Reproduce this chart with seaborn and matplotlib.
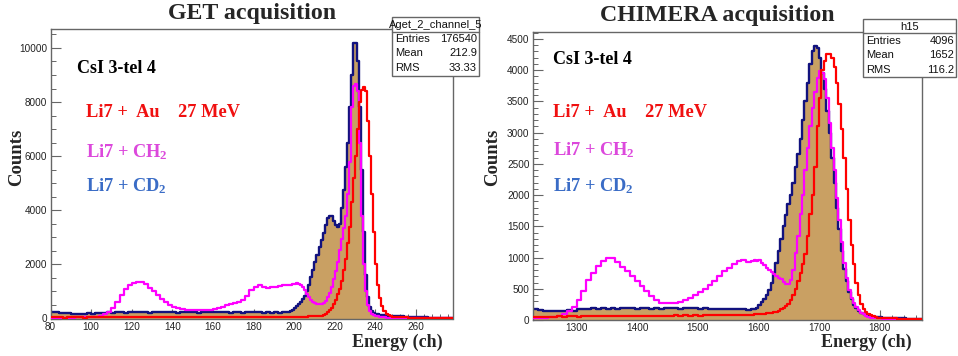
import numpy as np
import pandas as pd
import matplotlib
matplotlib.use("Agg")
import matplotlib.pyplot as plt
from matplotlib.ticker import MultipleLocator
from matplotlib.patches import Rectangle
from matplotlib.lines import Line2D
import seaborn as sns

sns.set_theme(style="white")
plt.rcParams["font.family"] = ["Liberation Sans", "DejaVu Sans"]
plt.rcParams["mathtext.fontset"] = "custom"
plt.rcParams["mathtext.rm"] = "Liberation Serif:bold"
plt.rcParams["mathtext.it"] = "Liberation Serif:bold"
plt.rcParams["mathtext.bf"] = "Liberation Serif:bold"

# ---------------- GET acquisition
# binning: 2 ch on 80-196, 1 ch on 196-248 (peak region), 2 ch on 248-280
get_binning = [(80, 196, 2), (196, 248, 1), (248, 280, 2)]
get_cd2 = [
    # 80 - 194 (2 ch)
    230, 250, 210, 220, 190, 170, 180, 160, 170, 190,
    180, 200, 190, 210, 230, 220, 240, 230, 220, 250,
    240, 230, 250, 240, 220, 240, 230, 250, 240, 230,
    240, 220, 230, 250, 240, 230, 220, 240, 250, 230,
    240, 230, 250, 230, 220, 240, 230, 220, 240, 230,
    230, 240, 220, 230, 210, 230, 220, 240,
    # 196 - 247 (1 ch)
    230, 250, 280, 330, 380, 450, 520, 620, 720, 850,
    1000, 1250, 1550, 1800, 2100, 2350, 2650, 2900, 3150, 3450,
    3700, 3800, 3780, 3620, 3450, 3380, 3500, 4100, 4750, 5600,
    6500, 7800, 9000, 10200, 10200, 9500, 7800, 5500, 3200, 1600,
    800, 420, 260, 200, 170, 150, 130, 120, 120, 110,
    110, 105,
    # 248 - 278 (2 ch)
    100, 90, 80, 70, 60, 60, 50, 40, 40, 30, 30, 30, 20, 20, 20, 20,
]
get_ch2 = [
    30, 30, 30, 30, 35, 35, 40, 40, 40, 45,
    50, 70, 100, 150, 250, 400, 620, 880, 1100, 1230,
    1300, 1350, 1340, 1260, 1130, 1000, 860, 720, 600, 490,
    420, 380, 350, 330, 320, 310, 320, 310, 330, 330,
    350, 380, 440, 500, 540, 580, 610, 680, 820, 1050,
    1170, 1220, 1150, 1120, 1150, 1170, 1200, 1240,
    1240, 1230, 1250, 1270, 1290, 1300, 1260, 1220, 1150, 1050,
    900, 780, 680, 610, 570, 545, 530, 535, 570, 650,
    780, 950, 1180, 1450, 1750, 2100, 2540, 2950, 3350, 3800,
    4600, 5800, 7800, 8600, 8650, 8400, 6500, 3800, 2000, 1000,
    500, 260, 170, 130, 110, 90, 70, 55, 45, 35,
    30, 25,
    20, 15, 10, 10, 10, 10, 5, 5, 5, 5, 5, 5, 5, 5, 5, 5,
]
get_au = [
    40, 45, 40, 35, 40, 45, 40, 40, 35, 40,
    45, 40, 45, 40, 45, 50, 45, 40, 45, 50,
    45, 50, 45, 50, 45, 50, 50, 45, 50, 45,
    50, 45, 50, 55, 50, 45, 50, 55, 50, 50,
    55, 50, 55, 50, 55, 50, 55, 60, 55, 50,
    55, 60, 55, 60, 55, 60, 55, 60,
    60, 60, 60, 60, 60, 60, 65, 65, 65, 70,
    70, 75, 80, 80, 85, 90, 100, 110, 130, 170,
    230, 300, 400, 520, 700, 900, 1100, 1400, 1800, 2200,
    2800, 3400, 4300, 5200, 6000, 7000, 8000, 8450, 8550, 8400,
    7300, 6000, 4600, 3200, 2000, 1250, 750, 450, 280, 180,
    120, 80,
    60, 50, 40, 40, 35, 35, 30, 30, 30, 25, 25, 25, 20, 20, 20, 20,
]
get_stats = ["Aget_2_channel_5", "176540", "212.9", "33.33"]
get_yticks = [0, 2000, 4000, 6000, 8000, 10000]
get_xticks = [80, 100, 120, 140, 160, 180, 200, 220, 240, 260]

# ---------------- CHIMERA acquisition
# binning: 8 ch on 1228-1588, 4 ch on 1588-1796 (peak region), 8 ch on 1796-1876
chim_binning = [(1228, 1588, 8), (1588, 1796, 4), (1796, 1876, 8)]
chim_cd2 = [
    # 1228 - 1580 (8 ch)
    180, 160, 150, 140, 150, 140, 150, 160, 150, 170,
    180, 180, 190, 180, 190, 180, 190, 180, 190, 200,
    190, 180, 190, 200, 180, 190, 180, 190, 200, 190,
    180, 190, 200, 190, 180, 190, 180, 170, 180, 170,
    180, 170, 180, 170, 160,
    # 1588 - 1792 (4 ch)
    170, 175, 200, 240, 290, 340, 400, 480, 600, 760,
    920, 1100, 1300, 1500, 1680, 1850, 2000, 2200, 2450, 2650,
    2900, 3200, 3500, 3800, 4100, 4300, 4380, 4350, 4200, 3950,
    3700, 3350, 3000, 2600, 2200, 1800, 1450, 1100, 820, 620,
    450, 330, 240, 190, 140, 110, 90, 80, 70, 60,
    55, 50,
    # 1796 - 1868 (8 ch)
    45, 40, 35, 30, 25, 25, 20, 20, 20, 20,
]
chim_ch2 = [
    30, 35, 40, 45, 55, 70, 100, 140, 210, 320,
    470, 640, 760, 860, 940, 990, 990, 930, 850, 780,
    700, 620, 540, 460, 390, 320, 280, 270, 265, 270,
    290, 320, 360, 400, 450, 500, 560, 630, 710, 790,
    830, 890, 940, 960, 930,
    940, 960, 950, 960, 920, 880, 840, 800, 770, 740,
    710, 680, 650, 610, 580, 570, 640, 800, 1080, 1350,
    1700, 2000, 2400, 2750, 3100, 3400, 3650, 3880, 3980, 3950,
    3850, 3550, 3150, 2750, 2400, 1950, 1600, 1250, 920, 680,
    480, 360, 280, 210, 160, 120, 90, 70, 50, 40,
    35, 30,
    25, 20, 15, 10, 10, 8, 5, 5, 5, 5,
]
chim_au = [
    50, 50, 55, 50, 55, 60, 55, 60, 60, 55,
    60, 65, 60, 65, 60, 65, 60, 65, 70, 65,
    60, 65, 70, 65, 70, 65, 70, 65, 70, 75,
    70, 75, 70, 75, 70, 75, 80, 75, 80, 75,
    80, 80, 85, 80, 85,
    85, 90, 90, 95, 100, 100, 105, 110, 120, 125,
    135, 150, 170, 190, 220, 260, 320, 400, 500, 620,
    750, 900, 1050, 1350, 1700, 2000, 2450, 3100, 3550, 4000,
    4150, 4250, 4250, 4200, 4050, 3800, 3450, 3050, 2600, 2100,
    1600, 1200, 900, 600, 400, 260, 180, 130, 100, 80,
    60, 50,
    40, 35, 30, 25, 20, 20, 15, 15, 15, 15,
]
chim_stats = ["h15", "4096", "1652", "116.2"]
chim_yticks = [0, 500, 1000, 1500, 2000, 2500, 3000, 3500, 4000, 4500]
chim_xticks = [1300, 1400, 1500, 1600, 1700, 1800]

stat_names = ["Entries", "Mean", "RMS"]
legend_lines = ["Li7 +  Au    27 MeV", "Li7 + CH$_2$", "Li7 + CD$_2$"]

TAN = "#c9a063"
NAVY = "#12127e"
MAGENTA = "#ff00ff"
RED = "#ff0000"
TXT_RED = "#f01010"
TXT_MAGENTA = "#dc48dc"
TXT_BLUE = "#3a6cc6"
FRAME = "#666666"
SERIF = ["Liberation Serif", "DejaVu Serif"]
NARROW = ["Liberation Sans Narrow", "Liberation Sans", "DejaVu Sans"]

W, H = 958, 356
fig = plt.figure(figsize=(W / 100, H / 100), dpi=100, facecolor="white")


def fx(x):
    return x / W


def fy(y):
    return 1 - y / H


def bin_edges(binning):
    parts = [np.arange(a, b, w) for a, b, w in binning] + [np.array([binning[-1][1]])]
    return [float(e) for e in np.concatenate(parts)]


def draw_spectra(ax, binning, cd2, ch2, au):
    edges = bin_edges(binning)
    centers = [0.5 * (a + b) for a, b in zip(edges[:-1], edges[1:])]
    df = pd.DataFrame({"energy": centers, "cd2": cd2, "ch2": ch2, "au": au})
    sns.histplot(data=df, x="energy", weights="cd2", bins=edges, element="step",
                 fill=True, color=TAN, alpha=1.0, linewidth=0, ax=ax, zorder=1)
    sns.histplot(data=df, x="energy", weights="cd2", bins=edges, element="step",
                 fill=False, color=NAVY, linewidth=1.7, ax=ax, zorder=2)
    sns.histplot(data=df, x="energy", weights="ch2", bins=edges, element="step",
                 fill=False, color=MAGENTA, linewidth=1.6, ax=ax, zorder=3)
    sns.histplot(data=df, x="energy", weights="au", bins=edges, element="step",
                 fill=False, color=RED, linewidth=1.6, ax=ax, zorder=4)


def style_axes(ax, xlim, ylim, xticks, yticks, xminor, yminor):
    ax.set_xlim(*xlim)
    ax.set_ylim(*ylim)
    ax.set_xticks(xticks)
    ax.set_yticks(yticks)
    ax.xaxis.set_minor_locator(MultipleLocator(xminor))
    ax.yaxis.set_minor_locator(MultipleLocator(yminor))
    ax.set_xlabel("")
    ax.set_ylabel("")
    ax.set_facecolor("white")
    for s in ax.spines.values():
        s.set_visible(True)
        s.set_color(FRAME)
        s.set_linewidth(1.0)
    ax.tick_params(which="both", direction="in", top=False, right=False,
                   bottom=True, left=True, colors=FRAME, labelcolor="#222222",
                   labelsize=7.2)
    ax.tick_params(which="major", length=7, width=0.8, pad=2.5)
    ax.tick_params(which="minor", length=3.5, width=0.7)
    ax.grid(False)


def legend_block(ax, x_head, x_lines, ys):
    ax.text(x_head, ys[0], "CsI 3-tel 4", transform=ax.transAxes, family=SERIF,
            fontweight="bold", fontsize=13, color="black", va="center", ha="left")
    for label, y, c in zip(legend_lines, ys[1:], [TXT_RED, TXT_MAGENTA, TXT_BLUE]):
        ax.text(x_lines, y, label, transform=ax.transAxes, family=SERIF,
                fontweight="bold", fontsize=13.2, color=c, va="center", ha="left")


def stats_box(x0, x1, y0, y1, yhead, rows_y, stats):
    fig.add_artist(Rectangle((fx(x0), fy(y1)), (x1 - x0) / W, (y1 - y0) / H,
                             transform=fig.transFigure, facecolor="white",
                             edgecolor=FRAME, linewidth=1.0, zorder=10))
    fig.add_artist(Line2D([fx(x0), fx(x1)], [fy(yhead), fy(yhead)],
                          transform=fig.transFigure, color=FRAME, linewidth=1.0,
                          zorder=11))
    fig.text(fx((x0 + x1) / 2), fy((y0 + yhead) / 2 + 0.5), stats[0],
             ha="center", va="center", fontsize=8, family=NARROW,
             color="#111111", zorder=12)
    for name, val, yy in zip(stat_names, stats[1:], rows_y):
        fig.text(fx(x0 + 3), fy(yy), name, ha="left", va="center", fontsize=8,
                 family=NARROW, color="#111111", zorder=12)
        fig.text(fx(x1 - 2), fy(yy), val, ha="right", va="center", fontsize=8,
                 family=NARROW, color="#111111", zorder=12)


# ---------------- left panel
ax1 = fig.add_axes([fx(50.5), fy(318.5), 402 / W, 289.5 / H])
draw_spectra(ax1, get_binning, get_cd2, get_ch2, get_au)
style_axes(ax1, (80, 278), (0, 10700), get_xticks, get_yticks, 4, 500)
legend_block(ax1, 0.067, 0.088, [0.865, 0.71, 0.575, 0.458])

# ---------------- right panel
ax2 = fig.add_axes([fx(533), fy(320), 389 / W, 288 / H])
draw_spectra(ax2, chim_binning, chim_cd2, chim_ch2, chim_au)
style_axes(ax2, (1228, 1870), (0, 4610), chim_xticks, chim_yticks, 20, 100)
legend_block(ax2, 0.051, 0.051, [0.903, 0.719, 0.59, 0.465])

# ---------------- titles and axis labels
fig.text(fx(252.5), fy(14), "GET acquisition", family=SERIF, fontweight="bold",
         fontsize=17.2, ha="center", va="center")
fig.text(fx(717.5), fy(16), "CHIMERA acquisition", family=SERIF, fontweight="bold",
         fontsize=17.2, ha="center", va="center")
for xc in (17, 493):
    fig.text(fx(xc), fy(157), "Counts", family=SERIF, fontweight="bold",
             fontsize=13.5, rotation=90, ha="center", va="center")
for xr in (443, 912):
    fig.text(fx(xr), fy(342), "Energy (ch)", family=SERIF, fontweight="bold",
             fontsize=13, ha="right", va="center")

# ---------------- statistics boxes
stats_box(392, 479, 17, 76, 32, [39, 53.5, 68], get_stats)
stats_box(863, 956, 19, 77, 33, [41, 55.5, 70], chim_stats)

fig.savefig("out.png", dpi=100, facecolor="white")
